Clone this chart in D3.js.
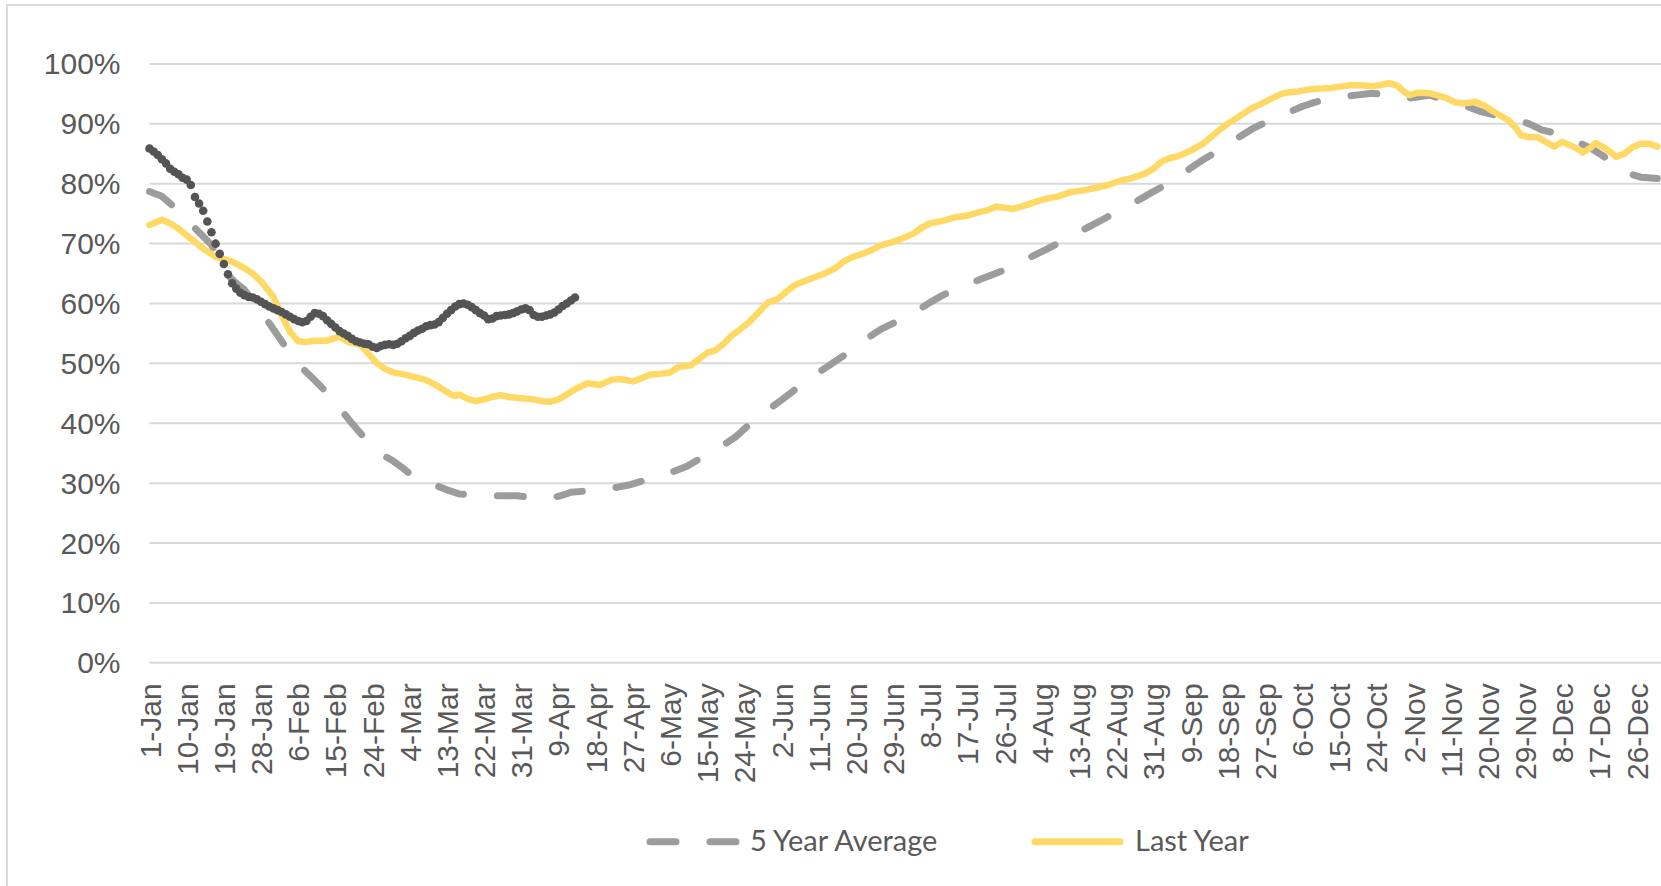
<!DOCTYPE html>
<html><head><meta charset="utf-8">
<script src="https://cdn.jsdelivr.net/npm/d3@7"></script>
<style>html,body{margin:0;padding:0;background:#fff;overflow:hidden}</style>
</head><body>
<svg id="chart" width="1661" height="886"></svg>
<script>
// ---------- DATA ----------
const tickLabels = ["1-Jan","10-Jan","19-Jan","28-Jan","6-Feb","15-Feb","24-Feb","4-Mar","13-Mar","22-Mar","31-Mar","9-Apr","18-Apr","27-Apr","6-May","15-May","24-May","2-Jun","11-Jun","20-Jun","29-Jun","8-Jul","17-Jul","26-Jul","4-Aug","13-Aug","22-Aug","31-Aug","9-Sep","18-Sep","27-Sep","6-Oct","15-Oct","24-Oct","2-Nov","11-Nov","20-Nov","29-Nov","8-Dec","17-Dec","26-Dec"];
const tickStepDays = 9;
const yTicks = [0,10,20,30,40,50,60,70,80,90,100];
const legendLabels = ["5 Year Average","Last Year"];

// Current year: daily values from 1-Jan
const currentYearValues = [85.8,85.3,84.7,84.0,83.3,82.4,81.9,81.5,80.9,80.6,
79.7,77.7,76.6,75.4,73.6,71.8,69.9,68.2,66.5,64.8,
63.3,62.4,61.7,61.3,61.0,60.9,60.6,60.2,59.8,59.4,
59.1,58.8,58.5,58.1,57.7,57.3,57.0,56.8,57.0,57.7,
58.3,58.2,57.8,57.1,56.5,55.9,55.3,54.9,54.5,54.0,
53.6,53.4,53.2,53.1,52.7,52.5,52.8,53.0,53.1,53.0,
53.2,53.6,54.1,54.5,55.0,55.4,55.7,56.1,56.3,56.4,
56.8,57.5,58.2,58.8,59.4,59.8,59.9,59.7,59.3,58.8,
58.3,57.9,57.3,57.4,57.8,57.9,58.0,58.1,58.3,58.6,
58.9,59.1,58.8,58.0,57.7,57.7,57.9,58.1,58.4,58.9,
59.5,59.9,60.4,60.9];

// Last year: day of year (0 = 1-Jan) and value
const lastYearDays = [0,3,5,7,9,11,13,16,18,20,23,25,27,29,30,32,34,36,38,40,43,46,48,51,53,55,57,59,62,65,67,69,71,73,74,75,77,79,81,83,85,87,90,93,95,97,99,101,103,106,109,112,114,117,119,121,124,126,128,131,133,135,137,139,141,143,145,147,149,150,152,154,156,158,161,164,166,168,170,173,175,177,180,182,185,187,189,192,195,198,201,203,205,207,209,212,215,217,220,223,226,229,232,235,238,241,243,245,247,249,252,255,257,259,261,263,265,267,269,271,274,276,278,281,284,286,289,291,294,296,298,300,302,304,305,307,310,312,314,316,318,321,323,325,327,329,331,332,334,336,338,340,342,344,346,347,349,350,352,354,355,357,359,361,363,365];
const lastYearValues = [73.0,73.9,73.3,72.4,71.3,70.2,69.1,67.7,67.3,66.9,65.8,64.9,63.6,61.9,61.0,57.9,55.2,53.6,53.5,53.7,53.7,54.4,53.5,53.0,51.5,50.0,49.0,48.4,48.0,47.5,47.1,46.4,45.6,44.7,44.5,44.7,44.0,43.6,43.9,44.3,44.6,44.3,44.1,43.9,43.6,43.5,43.9,44.7,45.6,46.6,46.3,47.2,47.3,46.9,47.4,48.0,48.2,48.4,49.3,49.6,50.6,51.7,52.1,53.2,54.6,55.6,56.7,58.1,59.6,60.2,60.6,61.8,62.9,63.5,64.3,65.1,65.8,66.9,67.6,68.3,68.9,69.6,70.2,70.7,71.6,72.6,73.3,73.7,74.3,74.6,75.2,75.5,76.1,75.9,75.7,76.3,77.0,77.4,77.8,78.5,78.8,79.2,79.7,80.4,80.9,81.6,82.4,83.6,84.2,84.5,85.4,86.6,87.7,88.9,89.9,90.8,91.7,92.6,93.2,93.9,94.9,95.2,95.3,95.7,95.8,95.9,96.2,96.4,96.3,96.2,96.4,96.7,96.3,95.1,94.7,95.1,95.0,94.6,94.2,93.5,93.3,93.6,93.0,92.1,91.3,90.5,89.0,88.0,87.7,87.7,86.9,86.1,86.9,86.3,85.6,85.1,86.0,86.7,86.0,85.0,84.4,84.9,86.0,86.6,86.6,86.1];

// 5 year average: day of year and value
const avgDays = [0,3,6,9,11,13,15,17,19,21,23,25,27,29,31,33,35,37,40,42,45,47,49,51,53,55,57,59,61,63,66,69,72,75,79,82,86,89,92,95,97,100,102,106,110,113,116,120,124,127,130,133,136,139,142,145,148,151,153,156,159,162,165,168,171,174,177,180,183,186,189,192,195,198,201,204,208,211,214,217,220,223,226,229,232,235,238,241,243,246,249,252,255,258,261,264,267,270,273,276,279,282,285,289,292,296,299,302,305,308,310,313,316,319,322,325,328,331,334,337,340,343,346,349,352,355,358,361,365];
const avgValues = [78.6,77.8,76.0,74.0,72.5,71.1,69.7,67.3,64.6,63.3,62.2,60.4,58.5,56.6,54.6,52.6,50.8,49.1,47.1,45.7,43.2,41.6,39.9,38.3,36.8,35.4,34.4,33.6,32.6,31.5,30.4,29.6,28.8,28.1,27.9,27.8,27.8,27.8,27.6,27.4,27.4,27.9,28.4,28.6,28.7,29.2,29.6,30.4,31.2,31.9,32.7,33.9,35.1,36.3,37.7,39.6,41.3,42.8,43.8,45.4,46.9,48.4,49.8,51.2,52.6,54.2,55.6,56.6,57.4,58.8,60.1,61.3,62.2,63.1,63.9,64.7,65.8,66.9,67.9,68.9,70.0,71.1,72.2,73.3,74.4,75.5,76.6,77.8,78.6,79.7,81.0,82.5,83.9,85.1,86.5,87.8,89.1,90.1,91.0,91.9,92.8,93.5,94.0,94.4,94.7,95.0,94.8,94.3,94.2,94.5,94.7,94.0,93.3,92.8,92.0,91.5,91.0,90.6,89.9,88.9,88.4,87.6,86.8,85.8,84.5,82.8,81.6,81.0,80.8];

// ---------- CHART ----------
const W = 1661, H = 886;
const svg = d3.select("#chart");
const x = d3.scaleLinear().domain([0, 365]).range([149.5, 149.5 + 365 * 4.131]);
const y = d3.scaleLinear().domain([0, 100]).range([662.3, 63.4]);
const textColor = "#595959";

// outer border (chart area frame, clipped by image)
svg.append("rect").attr("x", 7).attr("y", 5).attr("width", W + 50).attr("height", H + 50)
  .attr("fill", "none").attr("stroke", "#d9d9d9").attr("stroke-width", 2);

// Y axis with gridlines
const yAxis = svg.append("g").attr("transform", `translate(${x(0)},0)`)
  .call(d3.axisLeft(y).tickValues(yTicks).tickSize(-(W - x(0))).tickPadding(29).tickFormat(d => d + "%"));
yAxis.select(".domain").remove();
yAxis.selectAll(".tick line").attr("stroke", "#d9d9d9").attr("stroke-width", 2);
yAxis.selectAll(".tick text").attr("fill", textColor)
  .attr("font-family", "'Liberation Sans', Arial, sans-serif").attr("font-size", 30)
  .attr("dy", "0.35em");

// X axis labels
const xAxis = svg.append("g").attr("transform", `translate(0,${y(0)})`)
  .call(d3.axisBottom(x).tickValues(tickLabels.map((_, i) => i * tickStepDays))
    .tickSize(0).tickFormat((d, i) => tickLabels[i]));
xAxis.select(".domain").remove();
xAxis.selectAll(".tick text")
  .attr("fill", textColor)
  .attr("font-family", "'Liberation Sans', Arial, sans-serif").attr("font-size", 30)
  .attr("transform", "rotate(-90)")
  .attr("text-anchor", "end")
  .attr("x", -21).attr("y", 0).attr("dy", "0.35em");

// 5 year average (dashed)
const avgData = avgDays.map((d, i) => ({ d, v: avgValues[i] }));
const line = d3.line().x(p => x(p.d)).y(p => y(p.v));
svg.append("path").datum(avgData).attr("d", line)
  .attr("fill", "none").attr("stroke", "#9c9c9c").attr("stroke-width", 7)
  .attr("stroke-dasharray", "26,34").attr("stroke-linecap", "round").attr("stroke-linejoin", "round");

// Last year (solid yellow)
const lastData = lastYearDays.map((d, i) => ({ d, v: lastYearValues[i] }));
svg.append("path").datum(lastData).attr("d", line)
  .attr("fill", "none").attr("stroke", "#ffd966").attr("stroke-width", 6.5)
  .attr("stroke-linecap", "round").attr("stroke-linejoin", "round");

// Current year (dark markers per day)
svg.append("g").selectAll("circle").data(currentYearValues).join("circle")
  .attr("cx", (v, i) => x(i)).attr("cy", v => y(v)).attr("r", 4.3)
  .attr("fill", "#545454");

// Legend
const legend = svg.append("g");
legend.append("line").attr("x1", 650).attr("x2", 738).attr("y1", 841.7).attr("y2", 841.7)
  .attr("stroke", "#9c9c9c").attr("stroke-width", 7).attr("stroke-linecap", "round")
  .attr("stroke-dasharray", "26,34");
legend.append("text").attr("x", 750).attr("y", 851).text(legendLabels[0])
  .attr("fill", textColor).attr("font-family", "Lato, 'Open Sans', sans-serif").attr("font-size", 29);
legend.append("line").attr("x1", 1035).attr("x2", 1120).attr("y1", 841.7).attr("y2", 841.7)
  .attr("stroke", "#ffd966").attr("stroke-width", 7).attr("stroke-linecap", "round");
legend.append("text").attr("x", 1135).attr("y", 851).text(legendLabels[1])
  .attr("fill", textColor).attr("font-family", "Lato, 'Open Sans', sans-serif").attr("font-size", 29);
</script>
</body></html>
